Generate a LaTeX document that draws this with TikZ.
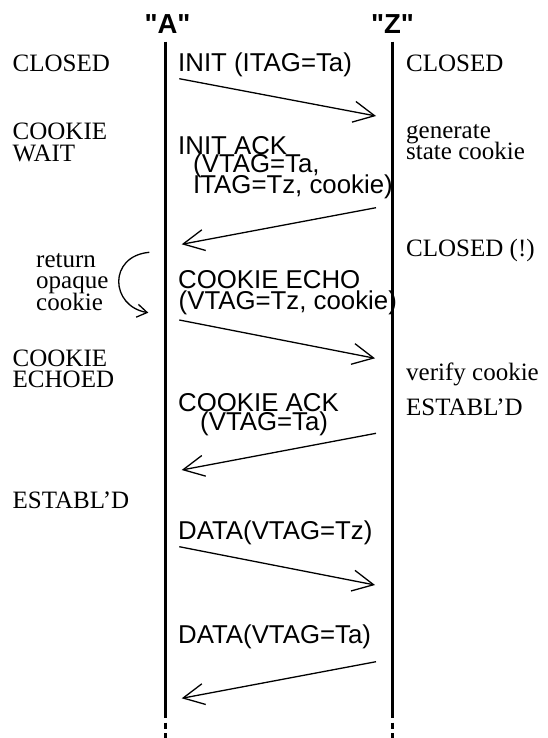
\documentclass[tikz,border=0pt]{standalone}
\usepackage{fontspec}
\setmainfont{Liberation Serif}
\setsansfont{Liberation Sans}
\newfontfamily\ttlfont{Liberation Sans Bold}
\usetikzlibrary{arrows.meta}
\tikzset{
  lbl/.style={font=\rmfamily\fontsize{25}{21}\selectfont, anchor=base west, inner sep=0pt},
  msg/.style={font=\sffamily\fontsize{25.8}{21}\selectfont, anchor=base west, inner sep=0pt},
  ttl/.style={font=\ttlfont\fontsize{27.5}{27}\selectfont, anchor=base, inner sep=0pt},
  life/.style={line width=3pt},
  lifedash/.style={line width=3pt, dash pattern=on 6.6pt off 3.8pt},
  arr/.style={line width=1.3pt, -{Straight Barb[length=21pt,width=21pt,line width=1.3pt]}},
  carr/.style={line width=1.3pt, -{Straight Barb[length=10pt,width=13pt,line width=1.3pt]}}
}
\begin{document}
\begin{tikzpicture}[x=1pt,y=-1pt]
\useasboundingbox (0,0) rectangle (547,738);
% titles
\node[ttl] (tA) at (167.5,33.3) {"A"};
\node[ttl] (tZ) at (392.5,33.3) {"Z"};
% lifelines
\coordinate (a0) at (165,41.7);
\coordinate (a1) at (165,717.7);
\coordinate (a2) at (165,722.7);
\coordinate (a3) at (165,738);
\coordinate (z0) at (392,41.7);
\coordinate (z1) at (392,717.7);
\coordinate (z2) at (392,722.7);
\coordinate (z3) at (392,738);
\draw[life] (a0) -- (a1);
\draw[lifedash] (a2) -- (a3);
\draw[life] (z0) -- (z1);
\draw[lifedash] (z2) -- (z3);
% left states
\node[lbl] (l1) at (12.5,71.7) {CLOSED};
\node[lbl] (l2) at (12.5,140) {COOKIE};
\node[lbl] (l3) at (12.5,161) {WAIT};
\node[lbl] (l4) at (36,267.3) {return};
\node[lbl] (l5) at (36,288.3) {opaque};
\node[lbl] (l6) at (36,310) {cookie};
\node[lbl] (l7) at (12.5,366.7) {COOKIE};
\node[lbl] (l8) at (12.5,387.7) {ECHOED};
\node[lbl] (l9) at (12.5,508.3) {ESTABL’D};
% right states
\node[lbl] (r1) at (406,71.7) {CLOSED};
\node[lbl] (r2) at (406,139) {generate};
\node[lbl] (r3) at (406,160) {state cookie};
\node[lbl] (r4) at (406,256.5) {CLOSED (!)};
\node[lbl] (r5) at (406,380) {verify cookie};
\node[lbl] (r6) at (406,415) {ESTABL’D};
% messages
\node[msg] (m1) at (178,71.7) {INIT (ITAG=Ta)};
\node[msg] (m2) at (178,154.3) {INIT ACK};
\node[msg] (m2b) at (193,172.5) {(VTAG=Ta,};
\node[msg] (m2c) at (193,193.3) {ITAG=Tz, cookie)};
\node[msg] (m3) at (178,288.3) {COOKIE ECHO};
\node[msg] (m3b) at (178.5,309.3) {(VTAG=Tz, cookie)};
\node[msg] (m4) at (178,411.7) {COOKIE ACK};
\node[msg] (m4b) at (200,430) {(VTAG=Ta)};
\node[msg] (m5) at (178,539.3) {DATA(VTAG=Tz)};
\node[msg] (m6) at (178,643.3) {DATA(VTAG=Ta)};
% arrow end points
\coordinate (s1) at (179.3,78.7);  \coordinate (e1) at (376,116);
\coordinate (s2) at (376,207.7);   \coordinate (e2) at (181.7,244.3);
\coordinate (s3) at (179.3,320);   \coordinate (e3) at (375,358.3);
\coordinate (s4) at (376,433.3);   \coordinate (e4) at (181.7,470);
\coordinate (s5) at (179.3,546.7); \coordinate (e5) at (375,585);
\coordinate (s6) at (376,661.7);   \coordinate (e6) at (181.7,698.3);
\draw[arr] (s1) -- (e1);
\draw[arr] (s2) -- (e2);
\draw[arr] (s3) -- (e3);
\draw[arr] (s4) -- (e4);
\draw[arr] (s5) -- (e5);
\draw[arr] (s6) -- (e6);
% curved arrow
\coordinate (c0) at (149.3,252.3);
\coordinate (c1) at (148.3,312.7);
\draw[carr] (c0) .. controls (108,256) and (110,306) .. (c1);
\end{tikzpicture}
\end{document}
